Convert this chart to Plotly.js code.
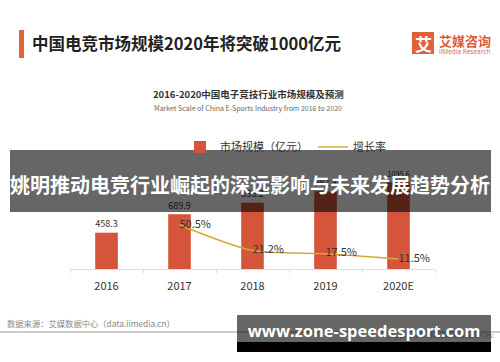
<!DOCTYPE html>
<html>
<head>
<meta charset="utf-8">
<script src="https://cdn.plot.ly/plotly-3.0.1.min.js"></script>
<style>html,body{margin:0;padding:0;background:#fff;}#chart{width:500px;height:362px;}</style>
</head>
<body>
<div id="chart"></div>
<script>
// ---- data ----
var years = ["2016", "2017", "2018", "2019", "2020E"];
var marketScale = [458.3, 689.9, 836.2, 982.3, 1095.6];
var growthYears = ["2017", "2018", "2019", "2020E"];
var growthRate = [50.5, 21.2, 17.5, 11.5];
var seriesNames = ["市场规模（亿元）", "增长率"];

var mainTitle = "中国电竞市场规模2020年将突破1000亿元";
var subTitleCn = "2016-2020中国电子竞技行业市场规模及预测";
var subTitleEn = "Market Scale of China E-Sports Industry from 2016 to 2020";
var bannerText = "姚明推动电竞行业崛起的深远影响与未来发展趋势分析";
var sourceText = "数据来源：艾媒数据中心（data.iimedia.cn）";
var copyrightText = "Copyright © iiMedia Research Inc";
var watermarkText = "www.zone-speedesport.com";

// ---- layout helpers (pixel -> paper) ----
var W = 500, H = 362;
var M = {l: 70, r: 65, t: 160, b: 93};
var PW = W - M.l - M.r, PH = H - M.t - M.b;
function px(x) { return (x - M.l) / PW; }
function py(y) { return (H - M.b - y) / PH; }

var FONT = "Noto Sans CJK SC, Noto Sans, sans-serif";
var BAR = "#d4553a";
var LINE = "#d8a63a";

var traces = [
  {
    type: "bar",
    name: seriesNames[0],
    x: years,
    y: marketScale,
    width: 0.31,
    marker: {color: BAR},
    text: marketScale.map(function (v) { return v.toFixed(1); }),
    textposition: "outside",
    textfont: {size: 11, color: "#333", family: FONT},
    cliponaxis: false,
    hoverinfo: "none"
  },
  {
    type: "scatter",
    mode: "lines+text",
    name: seriesNames[1],
    x: growthYears,
    y: growthRate,
    yaxis: "y2",
    line: {color: LINE, width: 1.5, shape: "spline", smoothing: 0.7},
    text: growthRate.map(function (v) { return v.toFixed(1) + "%"; }),
    textposition: "middle right",
    textfont: {size: 11, color: "#333", family: FONT},
    cliponaxis: false,
    hoverinfo: "none"
  }
];

function rectPx(x0, y0, x1, y1, fill) {
  return {type: "rect", xref: "paper", yref: "paper",
    x0: px(x0), x1: px(x1), y0: py(y0), y1: py(y1),
    fillcolor: fill, line: {width: 0}, layer: "above"};
}

var shapes = [
  rectPx(19, 30, 24, 58, "#e0653a"),
  rectPx(412, 32, 434, 54, "#e0603c"),
  {type: "line", xref: "paper", yref: "paper", x0: px(0), x1: px(500), y0: py(332), y1: py(332),
   line: {color: "#bbbbbb", width: 1.5}, layer: "above"},
  rectPx(10, 150, 491, 212, "rgba(0,0,0,0.6)"),
  rectPx(237, 342, 491, 352, "#000000")
];

function ann(text, x, y, size, color, opts) {
  var a = {text: text, xref: "paper", yref: "paper", x: px(x), y: py(y),
    xanchor: "center", yanchor: "middle", showarrow: false,
    font: {size: size, color: color, family: FONT}};
  for (var k in (opts || {})) {
    if (k === "weight") a.font.weight = opts[k];
    else if (k === "family") a.font.family = opts[k];
    else a[k] = opts[k];
  }
  return a;
}

var annotations = [
  ann(subTitleCn, 248, 94, 9.5, "#333", {weight: "bold"}),
  ann(subTitleEn, 248, 108, 7, "#666"),
  ann("艾", 423, 43, 17, "#ffffff", {weight: "bold"}),
  ann("艾媒咨询", 437, 40, 13, "#e05a35", {weight: "bold", xanchor: "left"}),
  ann("iiMedia Research", 437, 51, 6.5, "#e06040", {xanchor: "left", family: "Open Sans, sans-serif"}),
  ann(sourceText, 5, 323, 8.3, "#888", {xanchor: "left"}),
  ann(copyrightText, 497, 335, 7, "#999", {xanchor: "right", family: "Open Sans, sans-serif"}),
  ann(bannerText, 250, 184, 20, "#ffffff", {weight: "bold"}),
  {text: watermarkText, xref: "paper", yref: "paper", x: px(237), y: py(342),
   xanchor: "left", yanchor: "bottom", showarrow: false,
   width: 254, height: 27, align: "center", valign: "bottom", borderpad: 0,
   bgcolor: "rgba(0,0,0,0.6)", borderwidth: 0,
   font: {size: 16.5, color: "#ffffff", family: "Open Sans, sans-serif", weight: "bold"}}
];

var layout = {
  width: W, height: H,
  margin: {l: M.l, r: M.r, t: M.t, b: M.b, autoexpand: false},
  paper_bgcolor: "#ffffff",
  plot_bgcolor: "#ffffff",
  font: {family: FONT, color: "#333"},
  title: {
    text: mainTitle,
    xref: "container", yref: "container",
    x: 32 / W, xanchor: "left",
    y: 1 - 44 / H, yanchor: "middle",
    font: {size: 16.5, color: "#222", family: FONT, weight: "bold"}
  },
  showlegend: true,
  legend: {
    orientation: "h",
    x: px(180), xanchor: "left",
    y: py(147), yanchor: "middle",
    font: {size: 11, color: "#333", family: FONT},
    bgcolor: "rgba(0,0,0,0)",
    itemwidth: 30,
    entrywidth: 88, entrywidthmode: "pixels"
  },
  xaxis: {
    type: "category",
    categoryarray: years,
    showline: true, linecolor: "#dddddd", linewidth: 1,
    ticks: "outside", tickson: "boundaries", ticklen: 3, tickcolor: "#dddddd",
    tickfont: {size: 11, color: "#333", family: FONT},
    ticklabelstandoff: 7,
    showgrid: false, zeroline: false, fixedrange: true
  },
  yaxis: {
    range: [0, 1376],
    visible: false, showgrid: false, zeroline: false, fixedrange: true
  },
  yaxis2: {
    range: [0, 125],
    overlaying: "y", side: "right",
    visible: false, showgrid: false, zeroline: false, fixedrange: true
  },
  shapes: shapes,
  annotations: annotations
};

Plotly.newPlot("chart", traces, layout, {displayModeBar: false, staticPlot: true});
</script>
</body>
</html>
